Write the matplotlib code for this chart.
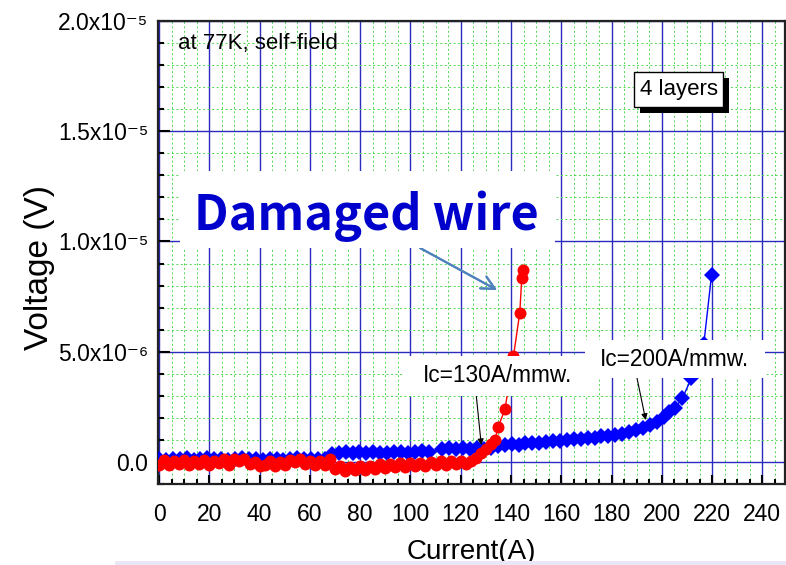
import matplotlib
matplotlib.use("Agg")
import matplotlib.pyplot as plt
from matplotlib.patches import Rectangle
from matplotlib.ticker import MultipleLocator, FixedLocator, FixedFormatter

# ---- data -------------------------------------------------------------
# 4-layer wire (blue diamonds): current in A, voltage in units of 1e-6 V
blue_current = [
    0, 2.75, 5.5, 8.25, 11, 13.75, 16.5, 19.25, 22, 24.75, 27.5, 30.25, 33,
    35.75, 38.5, 41.25, 44, 46.75, 49.5, 52.25, 55, 57.75, 60.5, 63.25, 66,
    68.75,
    71.5, 74.25, 77, 79.75, 82.5, 85.25, 88, 90.75, 93.5, 96.25, 99, 101.75,
    104.5, 107.25,
    112.75, 115.5, 118.25, 121, 123.75, 126.5, 129.25, 132,
    134.75,
    137.5, 140.25, 143, 145.75, 148.5, 151.25, 154, 156.75, 159.5,
    162.25, 165, 167.75, 170.5, 173.25, 176, 178.75, 181.5, 184.25,
    187, 189.75, 192.5, 195.25, 198,
    200.8, 203, 205.2, 208.2, 211.8, 216.7, 219.8,
]
blue_voltage = [
    0.14, 0.10, 0.15, 0.12, 0.16, 0.11, 0.14, 0.17, 0.12, 0.15, 0.10, 0.13,
    0.16, 0.12, 0.14, 0.11, 0.15, 0.13, 0.10, 0.14, 0.16, 0.12, 0.15, 0.13,
    0.12,
    0.38,
    0.40, 0.44, 0.40, 0.45, 0.41, 0.46, 0.42, 0.40, 0.45, 0.47, 0.42, 0.46,
    0.48, 0.43,
    0.57, 0.62, 0.58, 0.63, 0.59, 0.64, 0.60, 0.65,
    0.74,
    0.76, 0.80, 0.79, 0.84, 0.84, 0.88, 0.89, 0.94, 0.95,
    0.98, 1.02, 1.03, 1.08, 1.10, 1.16, 1.18, 1.24, 1.27,
    1.35, 1.45, 1.56, 1.68, 1.82,
    2.05, 2.25, 2.45, 2.90, 3.80, 5.35, 8.50,
]

# damaged wire (red circles): current in A, voltage in units of 1e-6 V
red_current = [
    0, 2, 4, 6, 8, 10, 12, 14, 16, 18, 20, 22, 24, 26, 28, 30,
    32, 34, 36, 38, 40,
    42, 44, 46, 48, 50, 52, 54, 56, 58, 60, 62, 64, 66,
    68,
    70, 72, 74, 76, 78, 80, 82, 84,
    86, 88, 90, 92, 94, 96, 98, 100, 102, 104, 106, 108,
    110, 112, 114, 116, 118, 120, 122, 124,
    126, 128, 130, 132,
    133.6, 134.9, 137.6, 141.0, 143.5, 144.3, 144.7,
]
red_voltage = [
    -0.12, 0.08, -0.14, 0.05, -0.10, 0.10, -0.15, 0.04, -0.08, 0.09, -0.14,
    0.06, -0.07, 0.12, -0.12, 0.14,
    0.05, 0.12, -0.10, 0.02, -0.17,
    -0.14, 0.05, -0.18, 0.02, -0.12, 0.08, -0.02, 0.12, -0.10, 0.06, -0.14,
    0.03, -0.12,
    0.15,
    -0.32, -0.18, -0.40, -0.22, -0.37, -0.20, -0.36, -0.18,
    -0.30, -0.10, -0.26, -0.08, -0.24, -0.06, -0.22, -0.05, -0.20, -0.04,
    -0.18, -0.02,
    -0.14, 0.04, -0.12, 0.06, -0.10, 0.05, -0.08, 0.04,
    0.20, 0.42, 0.60, 0.80,
    0.99, 1.59, 2.38, 4.80, 6.77, 8.35, 8.70,
]
volt_unit = 1e-6

y_ticks = [0.0, 5e-6, 1e-5, 1.5e-5, 2e-5]
y_tick_labels = ["0.0", "5.0x10\u207b\u2076", "1.0x10\u207b\u2075",
                 "1.5x10\u207b\u2075", "2.0x10\u207b\u2075"]
x_ticks = [0, 20, 40, 60, 80, 100, 120, 140, 160, 180, 200, 220, 240]

# ---- figure -----------------------------------------------------------
W, H = 786, 565
plt.rcParams["font.family"] = ["Liberation Sans", "DejaVu Sans"]

fig = plt.figure(figsize=(W / 100, H / 100), dpi=100)
fig.patch.set_facecolor("white")


def fx(x):
    return x / W


def fy(y):
    return 1 - y / H


ax = fig.add_axes([fx(158), fy(484), fx(785) - fx(158), fy(21) - fy(484)])
ax.set_xlim(-0.4, 249)
ax.set_ylim(-1.0e-6, 2.0e-5)

# grid: blue solid major, green dashed minor
ax.set_axisbelow(True)
ax.xaxis.set_major_locator(FixedLocator(x_ticks))
ax.xaxis.set_minor_locator(MultipleLocator(5))
ax.yaxis.set_major_locator(FixedLocator(y_ticks))
ax.yaxis.set_major_formatter(FixedFormatter(y_tick_labels))
ax.yaxis.set_minor_locator(MultipleLocator(1e-6))
ax.grid(which="minor", color="#4fd84f", linestyle=(0, (2.0, 2.6)),
        linewidth=0.7)
ax.grid(which="major", color="#2b2bc0", linestyle="-", linewidth=1.0)

for side in ["left", "bottom", "top", "right"]:
    ax.spines[side].set_linewidth(1.6)
    ax.spines[side].set_color("#222222")

ax.tick_params(axis="both", which="both", direction="in", colors="black",
               width=1.5, labelsize=16.5, top=False, right=False)
ax.tick_params(axis="y", which="major", length=8.6, pad=7)
ax.tick_params(axis="y", which="minor", length=4.3)
ax.tick_params(axis="x", which="major", length=6.5, pad=14)
ax.tick_params(axis="x", which="minor", length=3.6)

# series
ax.plot(blue_current, [v * volt_unit for v in blue_voltage], color="#0000ff",
        marker="D", markersize=8.6, markeredgewidth=0, linewidth=1.0,
        zorder=3)
ax.plot(red_current, [v * volt_unit for v in red_voltage], color="#ff0000",
        marker="o", markersize=8.6, markeredgewidth=0, linewidth=1.0,
        zorder=4)

# axis labels
ax.set_xlabel("Current(A)", fontsize=20)
ax.xaxis.set_label_coords(0.5, (484 - 539) / 463)
ax.set_ylabel("Voltage (V)", fontsize=24)
ax.yaxis.set_label_coords((55 - 158) / 627, (484 - 267) / 463)

fig.text(fx(178), fy(43), "at 77K, self-field", fontsize=16,
         ha="left", va="center")

# "4 layers" box with drop shadow
fig.add_artist(Rectangle((fx(640), fy(113)), fx(89), 35 / H,
                         transform=fig.transFigure, facecolor="black",
                         edgecolor="none", zorder=5))
fig.add_artist(Rectangle((fx(634), fy(107)), fx(89), 35 / H,
                         transform=fig.transFigure, facecolor="white",
                         edgecolor="black", linewidth=1.0, zorder=6))
fig.text(fx(678.5), fy(90), "4 layers", fontsize=16, ha="center",
         va="center", zorder=7)

# white label boxes drawn over the plot
for x0, y0, x1, y1 in [(180, 171, 555, 248), (402, 356, 595, 396),
                       (585, 340, 765, 378)]:
    fig.add_artist(Rectangle((fx(x0), fy(y1)), fx(x1 - x0), (y1 - y0) / H,
                             transform=fig.transFigure, facecolor="white",
                             edgecolor="none", zorder=5))

fig.text(fx(366), fy(230), "Damaged wire", fontsize=35, fontweight="bold",
         color="#0000cc", ha="center", va="baseline", zorder=7,
         family=["Noto Sans CJK KR", "DejaVu Sans"])
fig.text(fx(498), fy(376), "Ic=130A/mmw.", fontsize=16.3, ha="center",
         va="center", zorder=7)
fig.text(fx(674), fy(360), "Ic=200A/mmw.", fontsize=16.3, ha="center",
         va="center", zorder=7)

# arrows
fig.add_artist(plt.annotate(
    "", xy=(497, H - 290), xytext=(420, H - 248), xycoords="figure pixels",
    textcoords="figure pixels",
    arrowprops=dict(arrowstyle="->", color="#4f81bd", lw=1.5,
                    mutation_scale=24, shrinkA=0, shrinkB=0)))
ax.annotate("", xy=(128.2, 0.76e-6), xytext=(476, H - 393),
            textcoords="figure pixels",
            arrowprops=dict(arrowstyle="-|>", color="black", lw=0.8,
                            mutation_scale=9, shrinkA=0, shrinkB=0),
            zorder=6)
ax.annotate("", xy=(193.6, 1.9e-6), xytext=(637, H - 378),
            textcoords="figure pixels",
            arrowprops=dict(arrowstyle="-|>", color="black", lw=0.8,
                            mutation_scale=9, shrinkA=0, shrinkB=0),
            zorder=6)

# pale strip along the bottom edge
fig.add_artist(Rectangle((fx(115), 0), fx(W - 115), 4.5 / H,
                         transform=fig.transFigure, facecolor="#e9e7f5",
                         edgecolor="none", zorder=20))

fig.savefig("out.png", dpi=100)
